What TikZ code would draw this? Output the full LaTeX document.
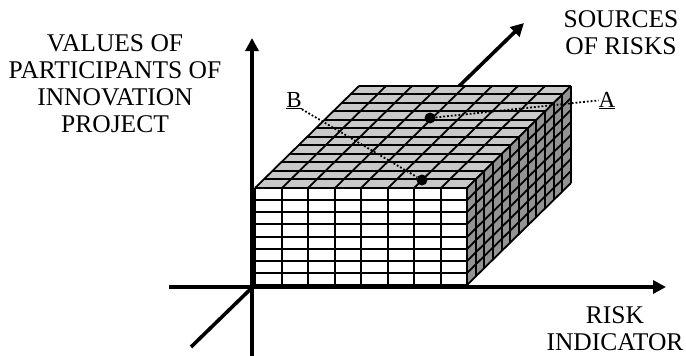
\documentclass[tikz,border=0pt]{standalone}
\usepackage{fontspec}
\setmainfont{Liberation Serif}
\usepackage{tikz}
\usetikzlibrary{arrows.meta}

\begin{document}
\begin{tikzpicture}[x=1pt, y=-1pt,
  axis/.style={line width=3.6pt, -{Triangle[length=13pt, width=13pt]}},
  grid/.style={line width=1.8pt, line join=round},
  lbl/.style={align=center, inner sep=0pt, font=\fontsize{25.5}{27.3}\selectfont},
  ptlbl/.style={inner sep=0pt, font=\fontsize{23}{26}\selectfont},
  dot/.style={circle, fill=black, inner sep=0pt, minimum size=11pt},
  dotline/.style={dotted, line width=1.8pt}
]
\useasboundingbox (0,0) rectangle (686,356);

% axes end points
\coordinate (O) at (252,287);
\coordinate (zstart) at (191,347);
\coordinate (zend) at (524,23);
\coordinate (ystart) at (252,356);
\coordinate (yend) at (252,38);
\coordinate (xstart) at (169,287);
\coordinate (xend) at (666,287);

% depth axis, behind the block
\draw[axis] (zstart) -- (zend);

% front face
\fill[white] (255,188) rectangle (467,285);
\foreach \i in {0,...,8}
  \draw[grid] ({255+round(\i*26.5)},188) -- ++(0,97);
\foreach \j in {0,...,8}
  \draw[grid] (255,{188+round(\j*12.125)}) -- ++(212,0);

% top face
\fill[gray!42] (255,188) -- (467,188) -- (571,86) -- (359,86) -- cycle;
\foreach \i in {0,...,8}
  \draw[grid] ({255+round(\i*26.5)},188) -- ++(104,-102);
\foreach \k in {0,...,12}
  \draw[grid] (255+\k*8.6667,{188-round(\k*8.5)}) -- ++(212,0);

% side face
\fill[gray!85] (467,188) -- (571,86) -- (571,183) -- (467,285) -- cycle;
\foreach \k in {0,...,12}
  \draw[grid] ({467+round(\k*8.6667)},188-\k*8.5) -- ++(0,97);
\foreach \j in {0,...,8}
  \draw[grid] (467,{188+round(\j*12.125)}) -- ++(104,-102);

% the other two axes
\draw[axis] (ystart) -- (yend);
\draw[axis] (xstart) -- (xend);

% labels
\node[lbl, anchor=north] (values) at (115,34) {VALUES OF\\PARTICIPANTS OF\\INNOVATION\\PROJECT};
\node[lbl, anchor=north] (sources) at (621,10) {SOURCES\\OF RISKS};
\node[lbl, anchor=north] (risk) at (615,306) {RISK\\INDICATOR};

% points A and B
\node[dot] (dotA) at (430,118) {};
\node[dot] (dotB) at (422,180) {};
\node[ptlbl, anchor=base] (labA) at (607,107) {\underline{A}};
\node[ptlbl, anchor=base] (labB) at (294,107) {\underline{B}};
\draw[dotline] (dotA) -- (labA.west);
\draw[dotline] (labB.south east) -- (dotB);
\end{tikzpicture}
\end{document}
